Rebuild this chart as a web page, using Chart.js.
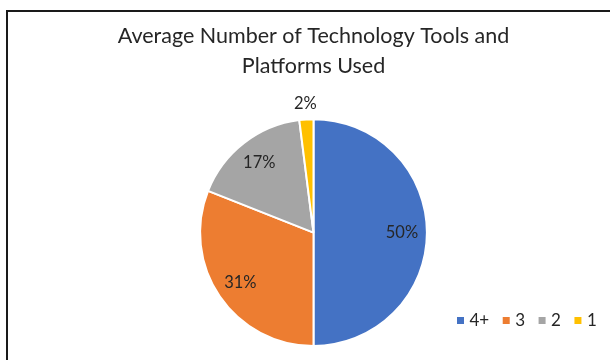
<!DOCTYPE html>
<html>
<head>
<meta charset="utf-8">
<script src="https://cdn.jsdelivr.net/npm/chart.js@4"></script>
<style>
  html, body { margin: 0; padding: 0; background: #fff; }
  #wrap { position: relative; width: 610px; height: 360px; overflow: hidden; }
  #frame {
    position: absolute; left: 6px; top: 10px; width: 700px; height: 400px;
    border-top: 2px solid #1a1a1a; border-left: 2px solid #1a1a1a;
  }
  #chart { position: absolute; left: 0; top: 0; }
</style>
</head>
<body>
<div id="wrap">
  <div id="frame"></div>
  <canvas id="chart" width="610" height="360"></canvas>
</div>
<script>
const titleLines = ["Average Number of Technology Tools and", "Platforms Used"];
const categories = ["4+", "3", "2", "1"];
const shares = [50, 31, 17, 2];
const colors = ["#4472C4", "#ED7D31", "#A5A5A5", "#FFC000"];

const FONT = "Lato, 'Open Sans', sans-serif";
const TEXT = "#262626";

// percent labels on the slices, small ones go outside
const sliceLabels = {
  id: "sliceLabels",
  afterDatasetsDraw(chart) {
    const ctx = chart.ctx;
    const meta = chart.getDatasetMeta(0);
    const data = chart.data.datasets[0].data;
    const total = data.reduce((a, b) => a + b, 0);
    ctx.save();
    ctx.font = "16.5px " + FONT;
    ctx.fillStyle = TEXT;
    ctx.textAlign = "center";
    ctx.textBaseline = "middle";
    meta.data.forEach((arc, i) => {
      const p = arc.getProps(["x", "y", "startAngle", "endAngle", "outerRadius"], true);
      const mid = (p.startAngle + p.endAngle) / 2;
      const pct = Math.round(data[i] / total * 100);
      const r = pct < 5 ? p.outerRadius + 16 : p.outerRadius * 0.78;
      ctx.fillText(pct + "%", p.x + Math.cos(mid) * r, p.y + Math.sin(mid) * r);
    });
    ctx.restore();
  }
};

// legend row in the bottom right corner
const cornerLegend = {
  id: "cornerLegend",
  afterDraw(chart) {
    const ctx = chart.ctx;
    ctx.save();
    ctx.font = "17px " + FONT;
    ctx.textBaseline = "middle";
    let x = 457;
    const y = 320.5;
    chart.data.labels.forEach((lab, i) => {
      ctx.fillStyle = chart.data.datasets[0].backgroundColor[i];
      ctx.fillRect(x, y - 3.5, 7, 7);
      x += 12.5;
      ctx.fillStyle = TEXT;
      ctx.fillText(lab, x, y);
      x += ctx.measureText(lab).width + 13.5;
    });
    ctx.restore();
  }
};

new Chart(document.getElementById("chart"), {
  type: "pie",
  data: {
    labels: categories,
    datasets: [{
      data: shares,
      backgroundColor: colors,
      borderColor: "#ffffff",
      borderWidth: 2,
      clip: false
    }]
  },
  options: {
    responsive: false,
    animation: false,
    layout: { padding: { top: 10, left: 17, right: 0, bottom: 13 } },
    plugins: {
      legend: { display: false },
      tooltip: { enabled: false },
      title: {
        display: true,
        text: titleLines,
        color: TEXT,
        font: { family: FONT, size: 21.5, weight: "normal", lineHeight: 1.4 },
        padding: { top: 11, bottom: 37 }
      }
    }
  },
  plugins: [sliceLabels, cornerLegend]
});
</script>
</body>
</html>
